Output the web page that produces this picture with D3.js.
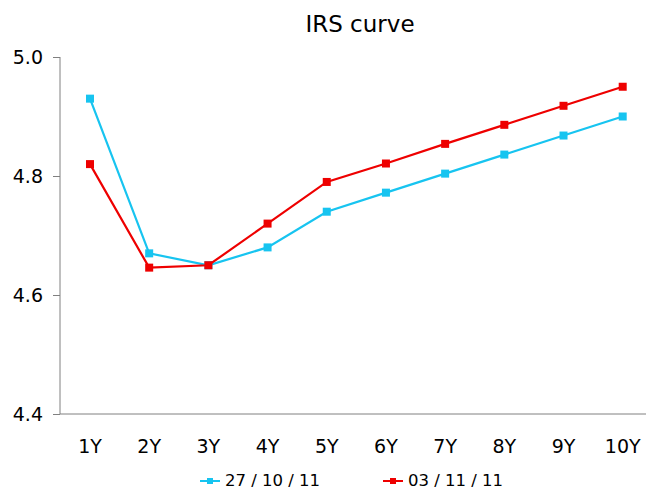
<!DOCTYPE html>
<html>
<head>
<meta charset="utf-8">
<script src="https://cdn.jsdelivr.net/npm/d3@7/dist/d3.min.js"></script>
<style>
  html, body { margin: 0; padding: 0; background: #fff; }
  svg { display: block; }
  text { font-family: 'DejaVu Sans', sans-serif; fill: #000; }
</style>
</head>
<body>
<svg id="chart" width="646" height="490"></svg>
<script>
// Swap-rate tenors and the two curve snapshots
const tenors = ["1Y", "2Y", "3Y", "4Y", "5Y", "6Y", "7Y", "8Y", "9Y", "10Y"];
const curveOct27 = [4.93, 4.67, 4.65, 4.68, 4.74, 4.772, 4.804, 4.836, 4.868, 4.90];
const curveNov03 = [4.82, 4.646, 4.65, 4.72, 4.79, 4.821, 4.854, 4.886, 4.918, 4.95];
const seriesNames = ["27 / 10 / 11", "03 / 11 / 11"];
const seriesColors = ["#17C4F0", "#EE0000"];
const yTicks = [4.4, 4.6, 4.8, 5.0];

const svg = d3.select("#chart");

const x = d3.scaleBand().domain(tenors).range([60.4, 652.3]);
const y = d3.scaleLinear().domain([4.4, 5.0]).range([414, 57]);

// Title
svg.append("text")
  .attr("x", 360).attr("y", 32)
  .attr("text-anchor", "middle")
  .style("font-size", "23px")
  .text("IRS curve");

// Y axis
const yAxis = svg.append("g")
  .attr("transform", "translate(60,0)")
  .call(d3.axisLeft(y).tickValues(yTicks).tickFormat(d3.format(".1f")).tickSize(7).tickPadding(10));
yAxis.select(".domain").attr("stroke", "#808080").attr("d", `M0,${y(5.0)}V${y(4.4)}`);
yAxis.selectAll(".tick line").attr("stroke", "#808080");
yAxis.selectAll(".tick text").style("font-size", "19px").attr("fill", "#000");

// X axis (baseline only, labels below)
const xAxis = svg.append("g")
  .attr("transform", `translate(0,${y(4.4)})`)
  .call(d3.axisBottom(x).tickSize(0).tickPadding(26));
xAxis.select(".domain").attr("stroke", "#808080").attr("d", `M60,0H646`);
xAxis.selectAll(".tick text").style("font-size", "19px").attr("fill", "#000");

// Lines and markers
const series = [curveOct27, curveNov03];
const line = d3.line()
  .x((d, i) => x(tenors[i]) + x.bandwidth() / 2)
  .y(d => y(d));

series.forEach((vals, s) => {
  svg.append("path")
    .datum(vals)
    .attr("fill", "none")
    .attr("stroke", seriesColors[s])
    .attr("stroke-width", 2.2)
    .attr("d", line);
  svg.selectAll(null)
    .data(vals)
    .enter().append("rect")
    .attr("x", (d, i) => x(tenors[i]) + x.bandwidth() / 2 - 4)
    .attr("y", d => y(d) - 4)
    .attr("width", 8).attr("height", 8)
    .attr("fill", seriesColors[s]);
});

// Legend
const legendX = [200, 383];
seriesNames.forEach((name, s) => {
  const g = svg.append("g").attr("transform", `translate(${legendX[s]},481)`);
  g.append("line").attr("x1", 0).attr("x2", 20).attr("y1", 0).attr("y2", 0)
    .attr("stroke", seriesColors[s]).attr("stroke-width", 2);
  g.append("rect").attr("x", 7).attr("y", -3).attr("width", 6).attr("height", 6)
    .attr("fill", seriesColors[s]);
  g.append("text").attr("x", 25).attr("y", 5)
    .style("font-size", "16.5px")
    .text(name);
});
</script>
</body>
</html>
